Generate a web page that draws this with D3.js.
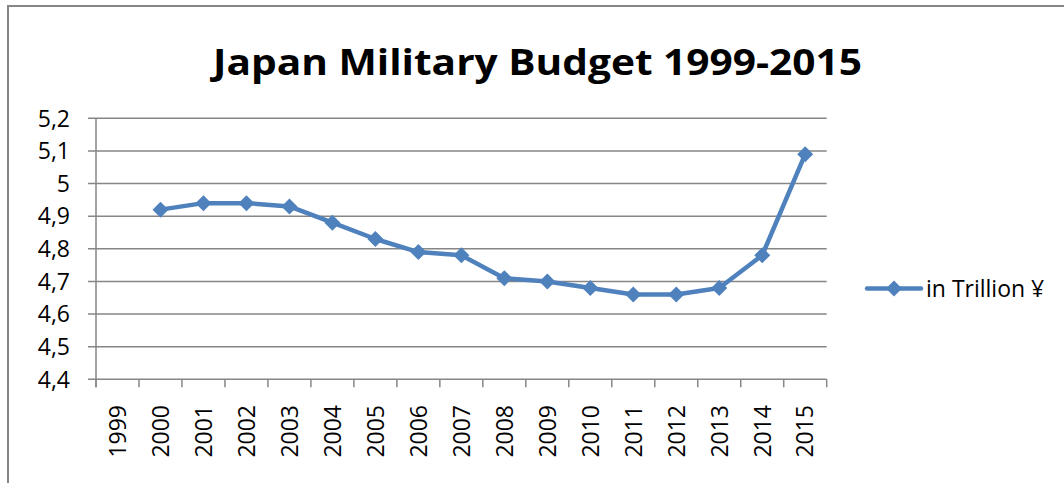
<!DOCTYPE html>
<html>
<head>
<meta charset="utf-8">
<script src="https://cdn.jsdelivr.net/npm/d3@7"></script>
<style>
  html, body { margin: 0; padding: 0; background: #fff; }
  svg { display: block; }
</style>
</head>
<body>
<svg id="chart" width="1064" height="483"></svg>
<script>
const title = "Japan Military Budget 1999-2015";
const seriesName = "in Trillion ¥";
const years = ["1999","2000","2001","2002","2003","2004","2005","2006","2007","2008","2009","2010","2011","2012","2013","2014","2015"];
const budget = [null, 4.92, 4.94, 4.94, 4.93, 4.88, 4.83, 4.79, 4.78, 4.71, 4.70, 4.68, 4.66, 4.66, 4.68, 4.78, 5.09];
const yTicks = [4.4, 4.5, 4.6, 4.7, 4.8, 4.9, 5.0, 5.1, 5.2];

const W = 1064, H = 483;
const plot = { left: 96, right: 826.7, top: 118.3, bottom: 379.3 };
const blue = "#4F81BD", grey = "#868686";
const font = "'Open Sans', 'Noto Sans', sans-serif";

const svg = d3.select("#chart");
svg.append("rect").attr("width", W).attr("height", H).attr("fill", "#fff");

// outer chart border (left & top visible)
svg.append("path")
  .attr("d", `M8,${H} L8,6 L${W},6`)
  .attr("fill", "none").attr("stroke", grey).attr("stroke-width", 2);

// title
const t = svg.append("text")
  .attr("x", 537.5).attr("y", 75)
  .attr("text-anchor", "middle")
  .attr("font-family", font).attr("font-weight", 700)
  .attr("font-size", 36).attr("fill", "#000")
  .text(title);
const tw = t.node().getComputedTextLength();
if (Math.abs(tw - 649) > 4) t.attr("textLength", 649).attr("lengthAdjust", "spacingAndGlyphs");

const x = d3.scaleBand().domain(years).range([plot.left, plot.right]);
const y = d3.scaleLinear().domain([4.4, 5.2]).range([plot.bottom, plot.top]);

const fmt = v => d3.format(".1~f")(v).replace(".", ",");

// gridlines
svg.append("g").selectAll("line").data(yTicks).join("line")
  .attr("x1", plot.left - 8).attr("x2", plot.right)
  .attr("y1", d => y(d)).attr("y2", d => y(d))
  .attr("stroke", grey).attr("stroke-width", 1.5);

// y axis line
svg.append("line")
  .attr("x1", plot.left).attr("x2", plot.left)
  .attr("y1", plot.top).attr("y2", plot.bottom + 8)
  .attr("stroke", grey).attr("stroke-width", 1.5);

// x axis ticks (band boundaries)
const bounds = years.map(d => x(d)).concat([x(years[years.length - 1]) + x.bandwidth()]);
svg.append("g").selectAll("line").data(bounds).join("line")
  .attr("x1", d => d).attr("x2", d => d)
  .attr("y1", plot.bottom).attr("y2", plot.bottom + 8)
  .attr("stroke", grey).attr("stroke-width", 1.5);

// y labels
svg.append("g").selectAll("text").data(yTicks).join("text")
  .attr("x", 70).attr("y", d => y(d))
  .attr("dy", "0.36em")
  .attr("text-anchor", "end")
  .attr("font-family", font).attr("font-size", 23).attr("fill", "#000")
  .text(d => fmt(d));

// x labels
svg.append("g").selectAll("text").data(years).join("text")
  .attr("transform", d => `translate(${x(d) + x.bandwidth() / 2},405) rotate(-90)`)
  .attr("dy", "0.36em")
  .attr("text-anchor", "end")
  .attr("font-family", font).attr("font-size", 23).attr("fill", "#000")
  .text(d => d);

// line
const pts = years.map((d, i) => ({ year: d, v: budget[i] })).filter(p => p.v != null);
const line = d3.line().x(p => x(p.year) + x.bandwidth() / 2).y(p => y(p.v));
svg.append("path").datum(pts)
  .attr("d", line)
  .attr("fill", "none").attr("stroke", blue)
  .attr("stroke-width", 4.5).attr("stroke-linejoin", "round").attr("stroke-linecap", "round");

const diamond = r => `M0,${-r}L${r},0L0,${r}L${-r},0Z`;
svg.append("g").selectAll("path").data(pts).join("path")
  .attr("transform", p => `translate(${x(p.year) + x.bandwidth() / 2},${y(p.v)})`)
  .attr("d", diamond(8))
  .attr("fill", blue);

// legend
const lg = svg.append("g").attr("transform", "translate(867,288.5)");
lg.append("line").attr("x1", 0).attr("x2", 54).attr("y1", 0).attr("y2", 0)
  .attr("stroke", blue).attr("stroke-width", 4.5).attr("stroke-linecap", "round");
lg.append("path").attr("transform", "translate(27,0)").attr("d", diamond(8)).attr("fill", blue);
lg.append("text").attr("x", 59).attr("y", 0).attr("dy", "0.36em")
  .attr("font-family", font).attr("font-size", 23).attr("fill", "#000")
  .text(seriesName);
</script>
</body>
</html>
